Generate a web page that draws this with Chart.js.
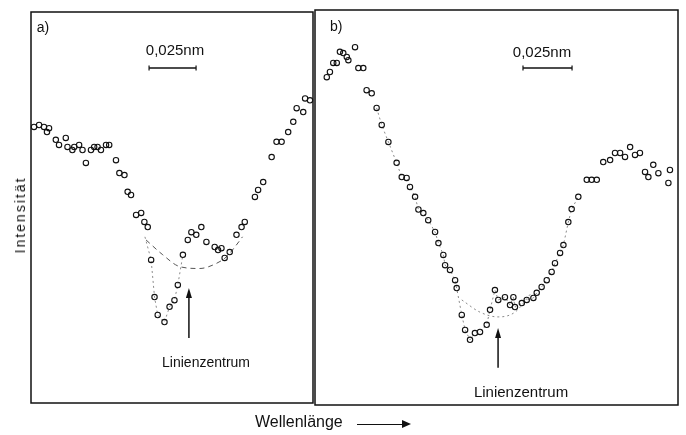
<!DOCTYPE html>
<html>
<head>
<meta charset="utf-8">
<script src="https://cdn.jsdelivr.net/npm/chart.js@4.4.1/dist/chart.umd.min.js"></script>
<style>
  html, body { margin: 0; background: #fff; overflow: hidden; }
  #wrap { position: relative; width: 686px; height: 435px; font-family: "Liberation Sans", Arial, sans-serif; color: #111; }
  canvas { position: absolute; }
  #chartA { left: 21px; top: 2px; }
  #chartB { left: 305px; top: 0; }
  .ylab { position: absolute; left: 20px; top: 215px; transform: translate(-50%, -50%) rotate(-90deg);
          font-size: 14px; letter-spacing: 2px; white-space: nowrap; }
  .xlab { position: absolute; left: 255px; top: 413px; font-size: 16px; white-space: nowrap; }
  .xarrow { position: absolute; left: 357px; top: 424px; width: 46px; height: 0; border-top: 1.3px solid #111; }
  .xarrow::after { content: ""; position: absolute; right: -8px; top: -4.6px; border-left: 9px solid #111;
                   border-top: 4px solid transparent; border-bottom: 4px solid transparent; }
</style>
</head>
<body>
<div id="wrap">
  <canvas id="chartA" width="302" height="411"></canvas>
  <canvas id="chartB" width="383" height="415"></canvas>
  <div class="ylab">Intensität</div>
  <div class="xlab">Wellenlänge</div>
  <div class="xarrow"></div>
</div>
<script>
// wavelength in pm (relative), intensity in arbitrary units (0..100)
const waveA = [1.6, 4.3, 6.9, 8.5, 9.6, 13.2, 14.9, 18.5, 19.4, 22.0, 23.0, 25.6, 27.4, 29.2, 31.9,
  33.6, 35.4, 37.2, 39.9, 41.6, 45.2, 47.0, 49.7, 51.4, 53.2, 55.9, 58.6, 60.3, 62.1, 63.9,
  65.7, 67.4, 71.0, 73.7, 76.3, 78.1, 80.8, 83.4, 85.3, 87.9, 90.6, 93.3, 97.7, 99.5, 101.3,
  103.0, 105.7, 109.3, 112.0, 113.7, 119.1, 120.8, 123.5, 128.0, 130.6, 133.3, 136.8, 139.5,
  141.3, 144.8, 145.8, 148.4];
const intensityA = [70.6, 71.1, 70.6, 69.3, 70.3, 67.3, 66.0, 67.8, 65.5, 64.7, 65.5, 66.0, 64.7, 61.4, 64.7,
  65.5, 65.5, 64.7, 66.0, 66.0, 62.1, 58.8, 58.3, 54.0, 53.2, 48.1, 48.6, 46.3, 45.0, 36.6,
  27.1, 22.5, 20.7, 24.6, 26.3, 30.2, 37.9, 41.7, 43.7, 43.0, 45.0, 41.2, 39.9, 39.1, 39.6,
  37.1, 38.6, 43.0, 45.0, 46.3, 52.7, 54.5, 56.5, 62.9, 66.8, 66.8, 69.3, 71.9,
  75.4, 74.4, 77.9, 77.4];

const waveB = [6.0, 7.6, 9.3, 11.1, 12.7, 14.4, 16.2, 17.0, 20.4, 22.1, 24.6, 26.3, 28.9, 31.4, 34.0,
  37.4, 41.6, 44.2, 46.7, 48.4, 51.0, 52.7, 55.2, 57.7, 61.2, 62.9, 65.4, 66.3, 68.8, 71.4,
  72.2, 74.8, 76.5, 79.0, 81.5, 84.1, 87.5, 89.2, 91.7, 93.4, 96.8, 99.4, 101.1, 101.9, 105.4,
  107.9, 111.3, 113.0, 115.5, 118.1, 120.6, 122.3, 124.9, 126.6, 129.1, 130.8, 134.2, 138.5, 141.0,
  143.6, 146.9, 150.4, 152.9, 155.5, 158.0, 160.6, 163.1, 165.6, 168.2, 169.9, 172.4, 175.0, 180.1, 180.9];
const intensityB = [83.0, 84.3, 86.6, 86.6, 89.4, 89.1, 88.1, 87.3, 90.6, 85.3, 85.3, 79.7, 78.9, 75.2, 70.9,
  66.6, 61.3, 57.7, 57.5, 55.2, 52.7, 49.5, 48.6, 46.8, 43.8, 41.0, 38.0, 35.4, 34.2, 31.6,
  29.6, 22.8, 19.0, 16.5, 18.2, 18.5, 20.3, 24.1, 29.1, 26.6, 27.3, 25.3, 27.3, 24.8, 25.8,
  26.6, 27.1, 28.4, 29.9, 31.6, 33.7, 35.9, 38.5, 40.5, 46.3, 49.6, 52.7, 57.0, 57.0,
  57.0, 61.5, 62.0, 63.8, 63.8, 62.8, 65.3, 63.3, 63.8, 59.0, 57.7, 60.8, 58.7, 56.2, 59.5];

// interpolated background under the line (dashed / dotted curves)
const baseWaveA = [61.2, 70.1, 79.0, 89.7, 98.6, 104.0, 108.9, 112.5];
const baseIntA = [41.7, 37.9, 34.9, 34.4, 35.7, 37.4, 40.2, 42.5];
const baseWaveB = [74.8, 84.1, 93.3, 101.9, 110.6];
const baseIntB = [26.6, 23.5, 22.3, 23.5, 28.6];

// line centre
const centreWave = [84.0, 93.3];
const scaleBarPm = 25;

const INK = "#111";
const GREY = "#8a8a8a";

const pts = (xs, ys) => xs.map((x, i) => ({ x, y: ys[i] }));

const panelDecor = {
  id: "panelDecor",
  afterDatasetsDraw(chart, args, opts) {
    const { ctx, chartArea: a, scales: { x, y } } = chart;
    ctx.save();
    ctx.strokeStyle = INK;
    ctx.fillStyle = INK;
    ctx.lineWidth = 1.5;
    ctx.strokeRect(a.left, a.top, a.width, a.height);

    // arrow pointing at the line centre
    const ax = x.getPixelForValue(opts.arrow.x);
    const y0 = y.getPixelForValue(opts.arrow.from);
    const y1 = y.getPixelForValue(opts.arrow.to);
    ctx.beginPath();
    ctx.moveTo(ax, y0);
    ctx.lineTo(ax, y1 + 6);
    ctx.stroke();
    ctx.beginPath();
    ctx.moveTo(ax, y1);
    ctx.lineTo(ax - 3, y1 + 10);
    ctx.lineTo(ax + 3, y1 + 10);
    ctx.closePath();
    ctx.fill();

    ctx.textBaseline = "middle";
    opts.notes.forEach((n) => {
      ctx.font = n.font;
      ctx.textAlign = n.align || "center";
      ctx.fillText(n.text, x.getPixelForValue(n.x), y.getPixelForValue(n.y));
    });
    ctx.restore();
  },
};

function makePanel(canvasId, cfg) {
  const datasets = [
    {
      label: "Messpunkte",
      data: pts(cfg.wave, cfg.intensity),
      pointRadius: 2.7,
      pointBorderWidth: 1.1,
      pointBorderColor: INK,
      pointBackgroundColor: "rgba(255,255,255,0)",
      showLine: false,
      order: 0,
    },
    {
      label: "Verbindung",
      data: cfg.link,
      showLine: true,
      borderColor: GREY,
      borderWidth: 1,
      borderDash: [2, 3],
      pointRadius: 0,
      order: 2,
    },
    {
      label: "Untergrund",
      data: pts(cfg.baseWave, cfg.baseInt),
      showLine: true,
      cubicInterpolationMode: "monotone",
      borderColor: cfg.baseColor,
      borderWidth: 1,
      borderDash: cfg.baseDash,
      pointRadius: 0,
      order: 1,
    },
    {
      label: "0,025 nm",
      data: [
        { x: cfg.barStart, y: cfg.barY },
        { x: cfg.barStart + scaleBarPm, y: cfg.barY },
      ],
      showLine: true,
      borderColor: INK,
      borderWidth: 1.5,
      pointStyle: "line",
      rotation: 90,
      pointRadius: 2.5,
      pointBorderColor: INK,
      pointBorderWidth: 1.2,
      order: 1,
    },
  ];

  return new Chart(document.getElementById(canvasId), {
    type: "scatter",
    data: { datasets },
    plugins: [panelDecor],
    options: {
      responsive: false,
      animation: false,
      layout: { padding: 10 },
      elements: { line: { tension: 0 } },
      datasets: { scatter: { clip: false } },
      plugins: {
        legend: { display: false },
        tooltip: { enabled: false },
        panelDecor: { arrow: cfg.arrow, notes: cfg.notes },
      },
      scales: {
        x: { type: "linear", min: 0, max: cfg.xMax, display: false },
        y: { type: "linear", min: 0, max: 100, display: false },
      },
    },
  });
}

const linkA = [{ x: 60.6, y: 42.5 }].concat(pts(waveA, intensityA).slice(29, 37));
makePanel("chartA", {
  wave: waveA,
  intensity: intensityA,
  link: linkA,
  baseWave: baseWaveA,
  baseInt: baseIntA,
  baseColor: "#555",
  baseDash: [5, 4],
  xMax: 150,
  barStart: 62.8,
  barY: 85.7,
  arrow: { x: centreWave[0], from: 16.6, to: 29.4 },
  notes: [
    { text: "a)", x: 3.0, y: 95.9, align: "left", font: "14px 'Liberation Sans', Arial, sans-serif" },
    { text: "0,025nm", x: 76.6, y: 90.0, font: "15px 'Liberation Sans', Arial, sans-serif" },
    { text: "Linienzentrum", x: 93.1, y: 10.2, font: "14px 'Liberation Sans', Arial, sans-serif" },
  ],
});

makePanel("chartB", {
  wave: waveB,
  intensity: intensityB,
  link: pts(waveB, intensityB).slice(13, 57),
  baseWave: baseWaveB,
  baseInt: baseIntB,
  baseColor: GREY,
  baseDash: [2, 3],
  xMax: 185,
  barStart: 106.0,
  barY: 85.3,
  arrow: { x: centreWave[1], from: 9.4, to: 19.5 },
  notes: [
    { text: "b)", x: 7.6, y: 95.7, align: "left", font: "14px 'Liberation Sans', Arial, sans-serif" },
    { text: "0,025nm", x: 115.7, y: 89.1, font: "15px 'Liberation Sans', Arial, sans-serif" },
    { text: "Linienzentrum", x: 105.0, y: 3.0, font: "15px 'Liberation Sans', Arial, sans-serif" },
  ],
});
</script>
</body>
</html>
